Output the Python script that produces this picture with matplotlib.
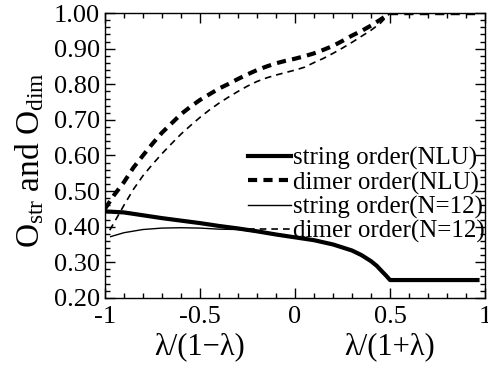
import matplotlib
matplotlib.use('Agg')
from matplotlib import pyplot as plt
from matplotlib.ticker import MultipleLocator, FixedFormatter, FixedLocator

plt.rcParams['font.family'] = 'Liberation Serif'
plt.rcParams['mathtext.fontset'] = 'custom'
plt.rcParams['mathtext.rm'] = 'Liberation Serif'
plt.rcParams['mathtext.it'] = 'Liberation Serif:italic'

# Define data.
str_nlu_x = [-1.0, -0.9, -0.8, -0.7, -0.6, -0.5, -0.4, -0.3, -0.2, -0.1, 0.0,
             0.1, 0.2, 0.3, 0.35, 0.4, 0.43, 0.46, 0.48, 0.5, 0.96]
str_nlu_y = [0.443, 0.440, 0.432, 0.424, 0.417, 0.410, 0.402, 0.395, 0.387,
             0.378, 0.370, 0.362, 0.350, 0.333, 0.320, 0.303, 0.290, 0.273,
             0.262, 0.250, 0.250]

dim_nlu_x = [-1.0, -0.95, -0.9, -0.85, -0.8, -0.75, -0.7, -0.65, -0.6, -0.55,
             -0.5, -0.45, -0.4, -0.35, -0.3, -0.25, -0.2, -0.15, -0.1, -0.05,
             0.0, 0.05, 0.1, 0.15, 0.2, 0.25, 0.3, 0.35, 0.4, 0.45, 0.5, 0.96]
dim_nlu_y = [0.450, 0.490, 0.525, 0.566, 0.600, 0.633, 0.664, 0.690, 0.716,
             0.737, 0.756, 0.772, 0.788, 0.801, 0.815, 0.828, 0.840, 0.850,
             0.859, 0.866, 0.872, 0.879, 0.887, 0.897, 0.908, 0.922, 0.937,
             0.950, 0.965, 0.982, 1.0, 1.0]

str_n12_x = [-0.97, -0.9, -0.8, -0.7, -0.6, -0.5, -0.4, -0.3, -0.2, -0.1, 0.0]
str_n12_y = [0.372, 0.383, 0.392, 0.396, 0.397, 0.396, 0.393, 0.392, 0.385,
             0.377, 0.369]

dim_n12_x = [-0.975, -0.95, -0.9, -0.85, -0.8, -0.75, -0.7, -0.65, -0.6,
             -0.55, -0.5, -0.45, -0.4, -0.35, -0.3, -0.25, -0.2, -0.15, -0.1,
             -0.05, 0.0, 0.05, 0.1, 0.15, 0.2, 0.25, 0.3, 0.35, 0.4, 0.45,
             0.5, 0.96]
dim_n12_y = [0.390, 0.413, 0.460, 0.505, 0.543, 0.575, 0.605, 0.633, 0.660,
             0.684, 0.707, 0.728, 0.747, 0.764, 0.780, 0.795, 0.808, 0.818,
             0.826, 0.833, 0.840, 0.848, 0.861, 0.873, 0.887, 0.902, 0.918,
             0.935, 0.952, 0.972, 1.0, 1.0]

x_ticks = [-1, -0.5, 0, 0.5, 1]
x_tick_labels = ['-1', '-0.5', '0', '0.5', '1']
y_ticks = [0.2, 0.3, 0.4, 0.5, 0.6, 0.7, 0.8, 0.9, 1.0]

# Make plot.
fig = plt.figure(figsize=(4.88, 3.65), dpi=100)
ax = fig.add_axes([0.215, 0.184, 0.779, 0.78])

ax.plot(str_nlu_x, str_nlu_y, color='black', linewidth=3.0,
        label='string order(NLU)')
ax.plot(dim_nlu_x, dim_nlu_y, color='black', linewidth=3.0,
        dashes=(2.2, 1.5), label='dimer order(NLU)')
ax.plot(str_n12_x, str_n12_y, color='black', linewidth=1.0,
        label='string order(N=12)')
ax.plot(dim_n12_x, dim_n12_y, color='black', linewidth=1.2,
        dashes=(4, 3), label='dimer order(N=12)')

# Customize plot.
ax.set_xlim(-1, 1)
ax.set_ylim(0.2, 1.0)
ax.xaxis.set_major_locator(FixedLocator(x_ticks))
ax.xaxis.set_major_formatter(FixedFormatter(x_tick_labels))
ax.xaxis.set_minor_locator(MultipleLocator(0.1))
ax.yaxis.set_major_locator(FixedLocator(y_ticks))
ax.yaxis.set_major_formatter(plt.FormatStrFormatter('%.2f'))
ax.yaxis.set_minor_locator(MultipleLocator(0.02))
ax.tick_params(which='both', direction='in', top=True, right=True,
               labelsize=19, width=1)
ax.tick_params(which='major', length=7)
ax.tick_params(axis='x', which='major', pad=6)
ax.tick_params(which='minor', length=3.5)
for s in ax.spines.values():
    s.set_linewidth(1)

ax.set_ylabel(r'O$_{\mathregular{str}}$ and O$_{\mathregular{dim}}$',
              fontsize=24, va='center')
ax.yaxis.set_label_coords(-0.197, 0.484)
ax.text(-0.5, -0.172, 'λ/(1−λ)', transform=ax.get_xaxis_transform(),
        ha='center', va='center', fontsize=22)
ax.text(0.5, -0.172, 'λ/(1+λ)', transform=ax.get_xaxis_transform(),
        ha='center', va='center', fontsize=22)

ax.legend(loc='lower right', bbox_to_anchor=(1.044, 0.13), frameon=False,
          fontsize=18, handlelength=1.75, handletextpad=0.05,
          labelspacing=0.05, borderpad=0.2)

fig.savefig('out.png', dpi=100)
